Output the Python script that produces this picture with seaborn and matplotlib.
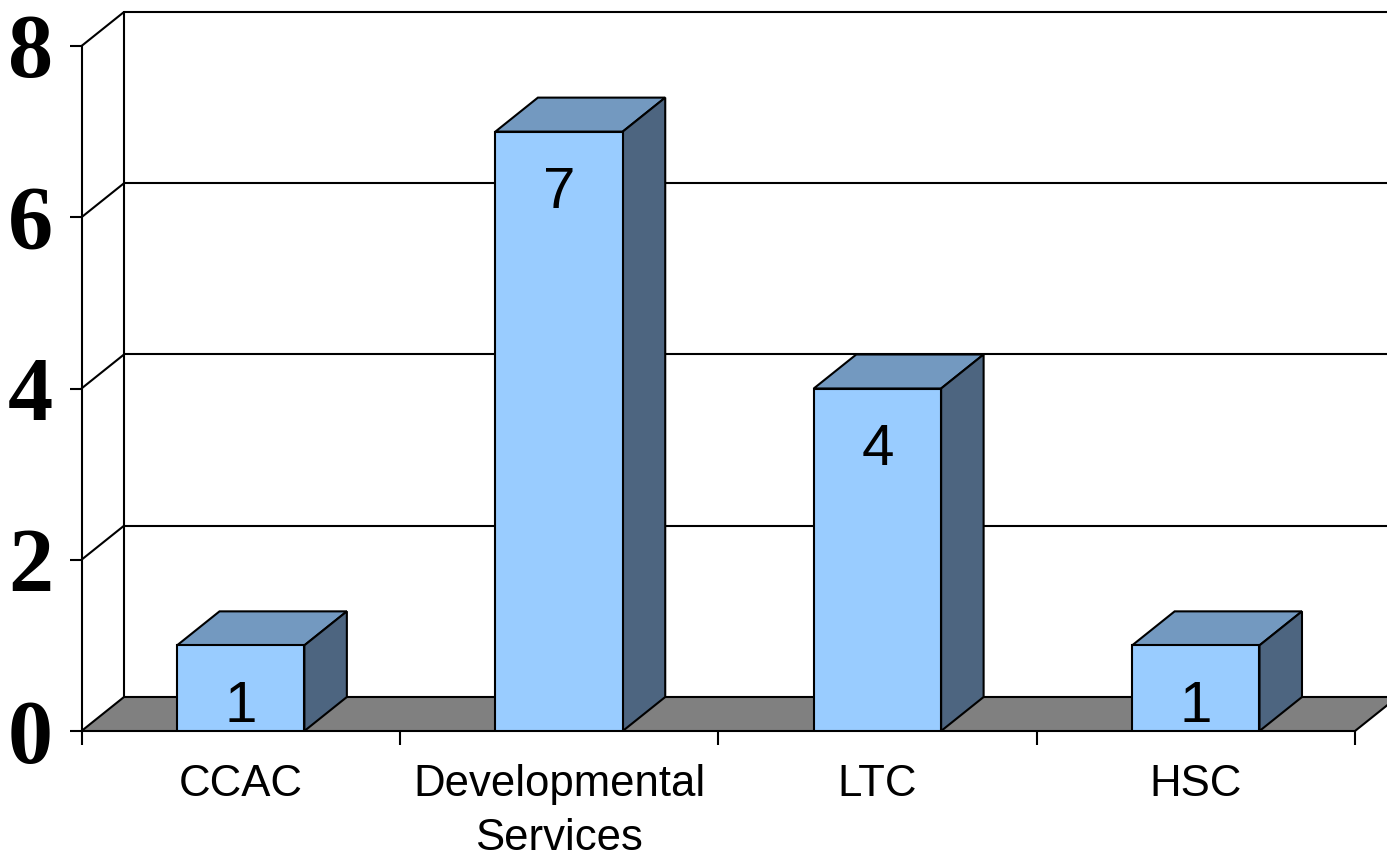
import matplotlib
matplotlib.use("Agg")
import matplotlib.pyplot as plt
from matplotlib.patches import Polygon
import seaborn as sns
import pandas as pd

# ---- data ----
categories = ["CCAC", "Developmental\nServices", "LTC", "HSC"]
values = [1, 7, 4, 1]
y_ticks = [0, 2, 4, 6, 8]
y_tick_labels = ["0", "2", "4", "6", "8"]

# ---- style ----
FRONT = "#99CCFF"
TOP = "#7399C0"
SIDE = "#4D6580"
FLOOR = "#808080"
LW = 1.5

sns.set_theme(style="white")
plt.rcParams["font.family"] = ["Liberation Sans", "DejaVu Sans"]

W, H = 1387, 864
fig = plt.figure(figsize=(W / 100, H / 100), dpi=100)
ax = fig.add_axes([81.5 / W, (H - 731) / H, (1355 - 81.5) / W, 685 / H])
ax.set_facecolor("none")

df = pd.DataFrame({"cat": categories, "val": values})
sns.barplot(data=df, x="cat", y="val", color=FRONT, saturation=1, width=0.4,
            edgecolor="black", linewidth=LW, ax=ax, zorder=6)

n = len(categories)
x0, x1 = -0.5, n - 0.5
ymax = y_ticks[-1]
ax.set_xlim(x0, x1)
ax.set_ylim(0, ymax)

# 3D depth offset (data units)
dx = 42.5 / 318.4
dy = 34 / 85.6

# back wall
ax.plot([x0 + dx, x0 + dx], [dy, ymax + dy], color="black", lw=LW, clip_on=False, zorder=1)
for v in y_ticks[1:]:
    ax.plot([x0, x0 + dx], [v, v + dy], color="black", lw=LW, clip_on=False, zorder=1)
    ax.plot([x0 + dx, x1 + dx + 1], [v + dy, v + dy], color="black", lw=LW, clip_on=False, zorder=1)

# floor
ax.add_patch(Polygon([(x0, 0), (x1, 0), (x1 + dx, dy), (x0 + dx, dy)], closed=True,
                     facecolor=FLOOR, edgecolor="black", lw=LW, clip_on=False, zorder=2))

# bar tops & sides
for p in ax.patches[:]:
    if isinstance(p, Polygon):
        continue
    x, w, h = p.get_x(), p.get_width(), p.get_height()
    ax.add_patch(Polygon([(x, h), (x + w, h), (x + w + dx, h + dy), (x + dx, h + dy)], closed=True,
                         facecolor=TOP, edgecolor="black", lw=LW, clip_on=False, zorder=5))
    ax.add_patch(Polygon([(x + w, 0), (x + w + dx, dy), (x + w + dx, h + dy), (x + w, h)], closed=True,
                         facecolor=SIDE, edgecolor="black", lw=LW, clip_on=False, zorder=5))

# value labels
for i, v in enumerate(values):
    ax.text(i, v - 0.72, str(v), ha="center", va="center", fontsize=42, color="black", zorder=10)

# spines
for s in ["top", "right", "bottom"]:
    ax.spines[s].set_visible(False)
ax.spines["left"].set_color("black")
ax.spines["left"].set_linewidth(LW)
ax.spines["left"].set_zorder(3)

# y ticks
ax.set_yticks(y_ticks)
ax.set_yticklabels(y_tick_labels)
ax.tick_params(axis="y", left=True, length=8.6, width=LW, color="black", pad=12, labelsize=65)
for lbl in ax.get_yticklabels():
    lbl.set_fontfamily(["Liberation Serif", "DejaVu Serif"])
    lbl.set_fontweight("bold")
    lbl.set_color("black")

# x ticks: marks at category boundaries, labels at centers
ax.set_xticks([x0 + k for k in range(n + 1)])
ax.set_xticklabels([""] * (n + 1))
ax.set_xticks(range(n), minor=True)
ax.set_xticklabels(categories, minor=True)
ax.tick_params(axis="x", which="major", bottom=True, length=10, width=LW, color="black", direction="out")
ax.tick_params(axis="x", which="minor", bottom=True, length=0, pad=24, labelsize=31.5, labelcolor="black")
for lbl in ax.get_xticklabels(minor=True):
    lbl.set_linespacing(1.4)
ax.set_xlabel("")
ax.set_ylabel("")

fig.savefig("out.png", dpi=100)
